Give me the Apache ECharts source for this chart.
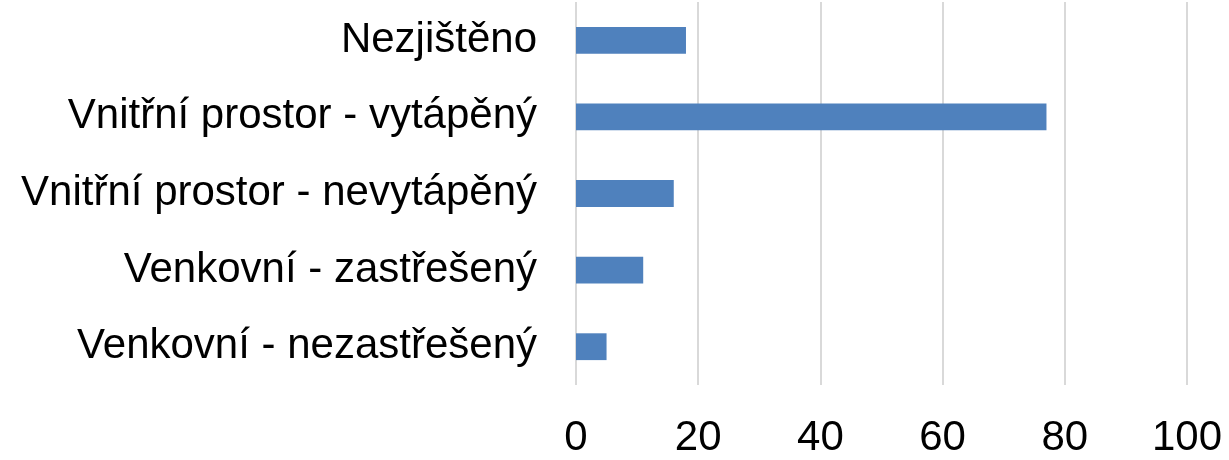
<!DOCTYPE html>
<html>
<head>
<meta charset="utf-8">
<script src="https://cdn.jsdelivr.net/npm/echarts@6/dist/echarts.min.js"></script>
<style>
  html, body { margin: 0; padding: 0; background: #fff; }
  #chart { width: 1229px; height: 460px; }
</style>
</head>
<body>
<div id="chart"></div>
<script>
// Categories listed bottom to top (category axis runs upward)
const categories = [
  'Venkovní - nezastřešený',
  'Venkovní - zastřešený',
  'Vnitřní prostor - nevytápěný',
  'Vnitřní prostor - vytápěný',
  'Nezjištěno'
];
const values = [5, 11, 16, 77, 18];
const axisMin = 0;
const axisMax = 100;
const axisStep = 20;

const chart = echarts.init(document.getElementById('chart'), null, { renderer: 'canvas' });
chart.setOption({
  animation: false,
  backgroundColor: '#ffffff',
  grid: { left: 576, right: 42, top: 2, bottom: 75 },
  xAxis: {
    type: 'value',
    min: axisMin,
    max: axisMax,
    interval: axisStep,
    axisLine: { show: false },
    axisTick: { show: false },
    splitLine: { show: true, lineStyle: { color: '#d9d9d9', width: 2 } },
    axisLabel: {
      margin: 32,
      color: '#000000',
      fontFamily: 'Liberation Sans, Arial, sans-serif',
      fontSize: 42
    }
  },
  yAxis: {
    type: 'category',
    data: categories,
    axisLine: { show: false },
    axisTick: { show: false },
    axisLabel: {
      margin: 39,
      color: '#000000',
      fontFamily: 'Liberation Sans, Arial, sans-serif',
      fontSize: 42
    }
  },
  series: [{
    type: 'bar',
    data: values,
    barWidth: '35%',
    itemStyle: { color: '#4f81bd' }
  }]
});
</script>
</body>
</html>
